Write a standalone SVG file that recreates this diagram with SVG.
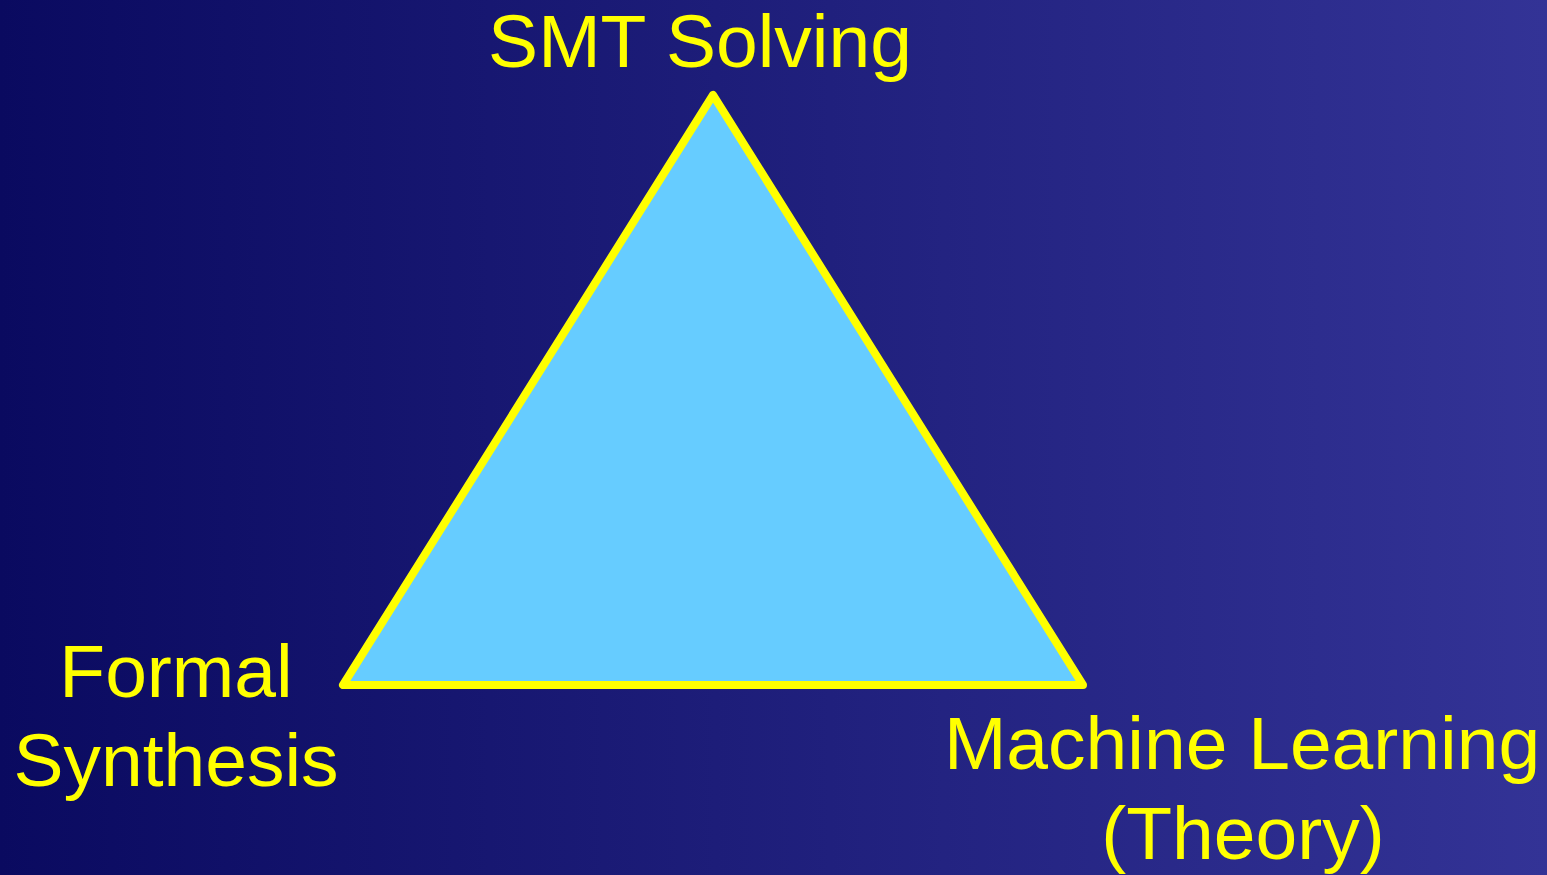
<svg xmlns="http://www.w3.org/2000/svg" width="1547" height="875" viewBox="0 0 1547 875">
<defs>
<linearGradient id="bg" x1="0" y1="0" x2="1" y2="0">
<stop offset="0" stop-color="#0a0a60"/>
<stop offset="1" stop-color="#333396"/>
</linearGradient>
<style>
.lbl{font-family:"Liberation Sans",Arial,sans-serif;font-size:75px;fill:#ffff00;text-anchor:middle}
</style>
</defs>
<rect x="0" y="0" width="1547" height="875" fill="url(#bg)"/>
<g id="triangle">
<polygon points="713,95 343,685 1083,685" fill="#66ccff" stroke="#ffff00" stroke-width="8" stroke-linejoin="round"/>
</g>
<g id="smt"><text class="lbl" x="700" y="67">SMT Solving</text></g>
<g id="formal"><text class="lbl" x="176" y="697">Formal</text><text class="lbl" x="176" y="786">Synthesis</text></g>
<g id="ml"><text class="lbl" x="1242" y="769">Machine Learning</text><text class="lbl" x="1243" y="859">(Theory)</text></g>
<g id="connectors"></g>
</svg>
